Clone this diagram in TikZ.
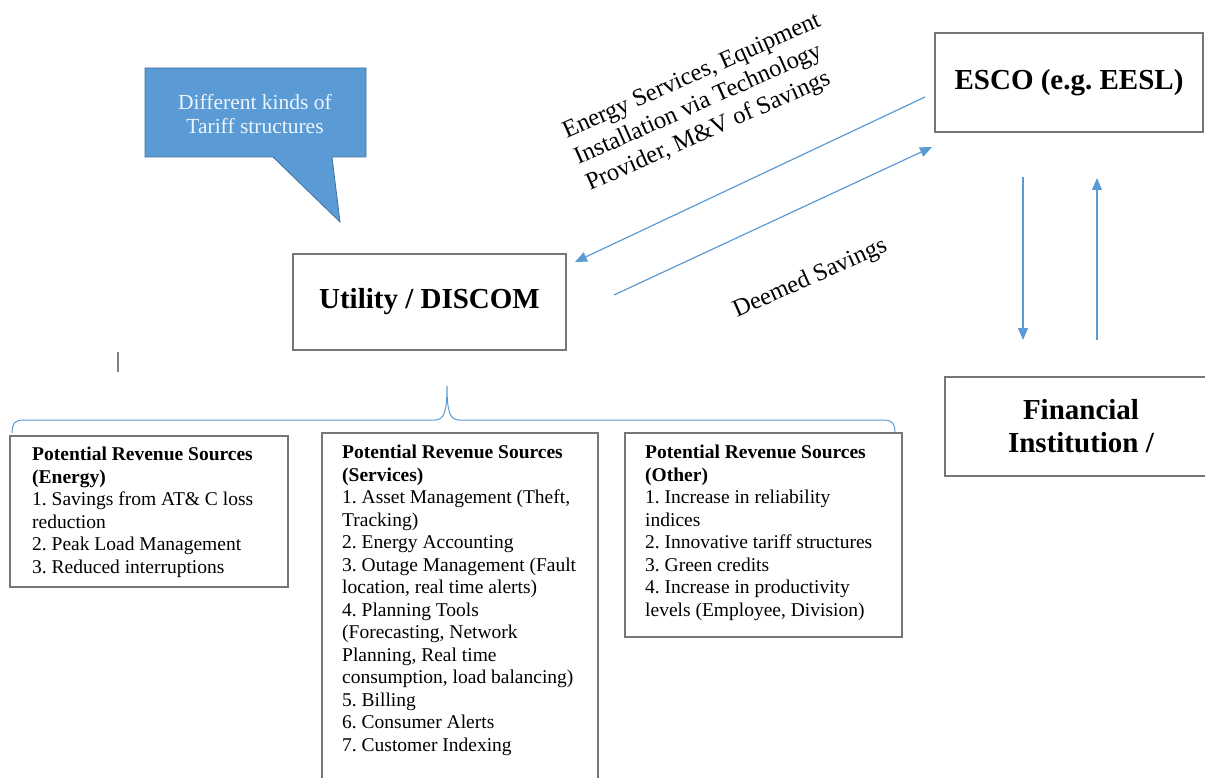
\documentclass[tikz,border=0pt]{standalone}
\usepackage{fontspec}
\setmainfont{Liberation Serif}
\frenchspacing
\usetikzlibrary{arrows.meta}
\definecolor{accent}{RGB}{91,155,213}
\definecolor{accentdark}{RGB}{65,113,156}
\definecolor{boxline}{RGB}{118,118,118}
\definecolor{calltext}{RGB}{236,244,252}

\begin{document}
\begin{tikzpicture}[x=1pt,y=-1pt,
  boxframe/.style={draw=boxline,line width=1.3pt,inner sep=0pt},
  boxtitle/.style={font=\fontsize{29}{33}\selectfont\bfseries,align=center},
  listtext/.style={font=\fontsize{19.5}{22.5}\selectfont,align=left,anchor=north west,inner sep=0pt},
  flowarrow/.style={draw=accent,line width=1.2pt,-{Triangle[length=12pt,width=10pt]}},
  flowlabel/.style={font=\fontsize{24.5}{28.5}\selectfont,rotate=24,inner sep=0pt}]
\useasboundingbox (0,0) rectangle (1205,778);

% speech bubble about tariffs
\path[fill=accent,draw=accentdark,line width=0.8pt]
  (145,68) -- (366,68) -- (366,157) -- (332,157) -- (340,222) -- (273,157) -- (145,157) -- cycle;
\node[font=\fontsize{21.5}{24}\selectfont,text=calltext,align=center] (tariff) at (255,114)
  {Different kinds of\\Tariff structures};

% main actors
\node[boxframe,boxtitle,minimum width=273pt,minimum height=96pt] (utility) at (429.5,302) {Utility / DISCOM};
\node[boxframe,boxtitle,minimum width=268pt,minimum height=99pt] (esco) at (1069,82.5) {ESCO (e.g. EESL)};
\node[boxframe,boxtitle,minimum width=272pt,minimum height=99pt] (fin) at (1081,426.5) {Financial\\Institution /};

% flows between utility and ESCO
\coordinate (aStart) at (925,97);
\coordinate (aEnd) at (575,262);
\coordinate (bStart) at (614,295);
\coordinate (bEnd) at (932,147);
\draw[flowarrow] (aStart) -- (aEnd);
\draw[flowarrow] (bStart) -- (bEnd);
\node[flowlabel,align=left,anchor=north west] (services-label) at (560,124)
  {Energy Services, Equipment\\Installation via Technology\\Provider, M\&V of Savings};
\node[flowlabel,anchor=base west] (deemed) at (737,318) {Deemed Savings};

% flows between ESCO and financial institution
\coordinate (cStart) at (1023,177);
\coordinate (cEnd) at (1023,340);
\coordinate (dStart) at (1097,340);
\coordinate (dEnd) at (1097,178);
\draw[flowarrow] (cStart) -- (cEnd);
\draw[flowarrow] (dStart) -- (dEnd);

% small stray tick
\draw[draw=gray,line width=1.5pt] (118,352) -- (118,372);

% brace grouping the revenue sources
\coordinate (braceL) at (12,433);
\coordinate (braceTip) at (447,386);
\coordinate (braceR) at (895,433);
\draw[draw=accent,line width=1pt]
  (braceL) .. controls (12,424) and (14,420) .. (24,420) -- (435,420)
  .. controls (444,420) and (447,412) .. (braceTip)
  .. controls (447,412) and (450,420) .. (459,420) -- (883,420)
  .. controls (893,420) and (895,424) .. (braceR);

% revenue source boxes
\node[boxframe,minimum width=278pt,minimum height=151pt] (energy) at (149,511.5) {};
\node[boxframe,minimum width=276pt,minimum height=360pt] (servicesbox) at (460,613) {};
\node[boxframe,minimum width=277pt,minimum height=204pt] (other) at (763.5,535) {};

\node[listtext] (energytxt) at (32,447)
  {\textbf{Potential Revenue Sources}\\\textbf{(Energy)}\\1. Savings from AT\& C loss\\reduction\\2. Peak Load Management\\3. Reduced interruptions};
\node[listtext] (servicestxt) at (342,445)
  {\textbf{Potential Revenue Sources}\\\textbf{(Services)}\\1. Asset Management (Theft,\\Tracking)\\2. Energy Accounting\\3. Outage Management (Fault\\location, real time alerts)\\4. Planning Tools\\(Forecasting, Network\\Planning, Real time\\consumption, load balancing)\\5. Billing\\6. Consumer Alerts\\7. Customer Indexing};
\node[listtext] (othertxt) at (645,445)
  {\textbf{Potential Revenue Sources}\\\textbf{(Other)}\\1. Increase in reliability\\indices\\2. Innovative tariff structures\\3. Green credits\\4. Increase in productivity\\levels (Employee, Division)};
\end{tikzpicture}
\end{document}
